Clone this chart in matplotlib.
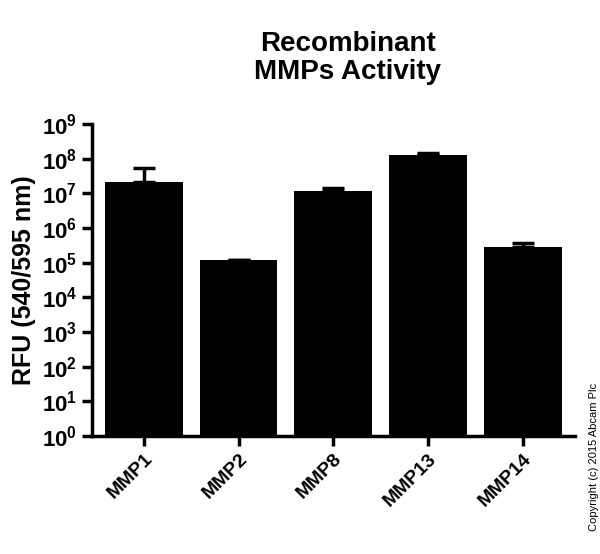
import matplotlib
matplotlib.use("Agg")
import matplotlib.pyplot as plt
import numpy as np

plt.rcParams["font.family"] = ["Liberation Sans", "DejaVu Sans"]
plt.rcParams["mathtext.fontset"] = "custom"
plt.rcParams["mathtext.bf"] = "Liberation Sans:bold"
plt.rcParams["mathtext.rm"] = "Liberation Sans"

categories = ["MMP1", "MMP2", "MMP8", "MMP13", "MMP14"]
values = [2.2e7, 1.2e5, 1.15e7, 1.26e8, 2.9e5]
err_top = [5.3e7, 1.2e5, 1.45e7, 1.45e8, 3.7e5]

fig = plt.figure(figsize=(6, 5.54), dpi=100)
ax = fig.add_axes([0.153, 0.213, 0.805, 0.563])

xs = np.arange(len(categories))
upper = np.array(err_top) - np.array(values)
ax.bar(xs, values, width=0.82, color="black", zorder=2)
ax.errorbar(xs, values, yerr=[np.zeros(len(xs)), upper], fmt="none",
            ecolor="black", elinewidth=2.5, capsize=8, capthick=2.5, zorder=1)

ax.set_yscale("log")
ax.set_ylim(1, 1e9)
ax.set_xlim(-0.55, 4.55)
ax.set_yticks([10.0 ** k for k in range(10)])
ax.set_yticklabels([f"$\\mathbf{{10^{{{k}}}}}$" for k in range(10)])
ax.yaxis.set_minor_locator(matplotlib.ticker.NullLocator())
ax.set_xticks(xs)
ax.set_xticklabels(categories, rotation=45, ha="right", rotation_mode="anchor",
                   fontsize=14, fontweight="bold")
ax.tick_params(axis="y", labelsize=16, width=2.5, length=7)
ax.tick_params(axis="x", width=2.5, length=7)
for s in ["top", "right"]:
    ax.spines[s].set_visible(False)
for s in ["left", "bottom"]:
    ax.spines[s].set_linewidth(2.5)

ax.set_ylabel("RFU (540/595 nm)", fontsize=18, fontweight="bold")
fig.text(0.58, 0.895, "Recombinant\nMMPs Activity", ha="center", va="center",
         fontsize=20, fontweight="bold", linespacing=1.1)
fig.text(0.99, 0.175, "Copyright (c) 2015 Abcam Plc", rotation=90, ha="center",
         va="center", fontsize=8)

fig.savefig("out.png", dpi=100)
